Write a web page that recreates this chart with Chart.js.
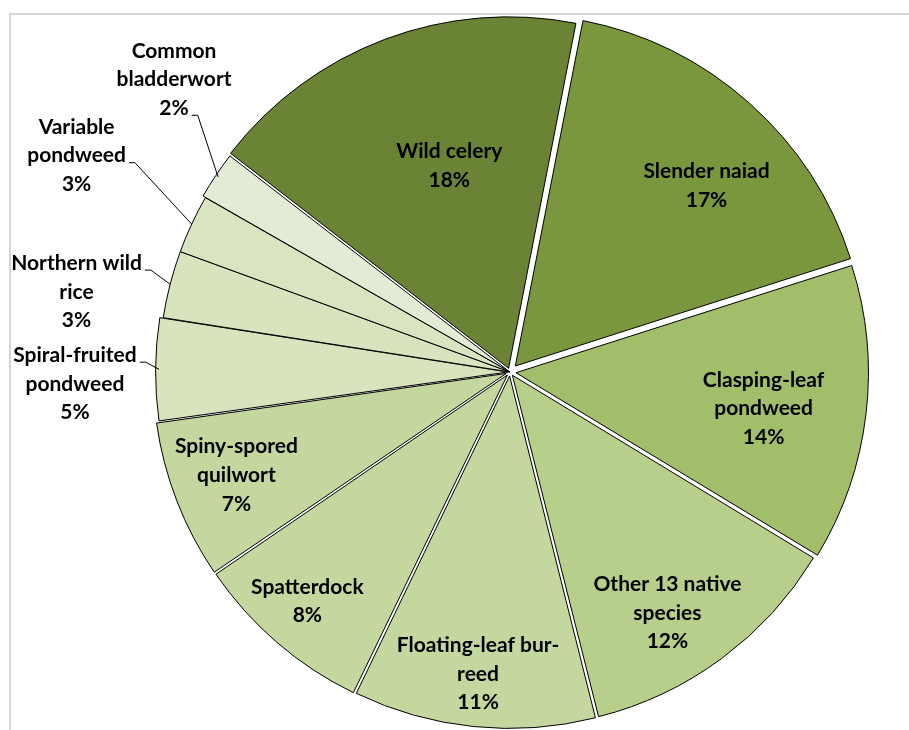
<!DOCTYPE html>
<html>
<head>
<meta charset="utf-8">
<script src="https://cdn.jsdelivr.net/npm/chart.js@4.4.1/dist/chart.umd.min.js"></script>
<style>
  html, body { margin: 0; padding: 0; background: #fff; overflow: hidden; }
  #frame { position: absolute; left: 9px; top: 13px; width: 1000px; height: 1000px; border: 2px solid #d4d4d4; }
  #wrap { position: absolute; left: 0; top: 0; width: 909px; height: 730px; }
</style>
</head>
<body>
<div id="frame"></div>
<div id="wrap"><canvas id="chart_pie"></canvas></div>
<script>
// categories (line breaks as they appear on the chart)
const categories = [
  ['Wild celery'],
  ['Slender naiad'],
  ['Clasping-leaf', 'pondweed'],
  ['Other 13 native', 'species'],
  ['Floating-leaf bur-', 'reed'],
  ['Spatterdock'],
  ['Spiny-spored', 'quilwort'],
  ['Spiral-fruited', 'pondweed'],
  ['Northern wild', 'rice'],
  ['Variable', 'pondweed'],
  ['Common', 'bladderwort']
];

// share of plants, percent
const shares = [17.6, 17.0, 13.6, 12.4, 11.1, 8.3, 7.3, 4.7, 3.1, 2.7, 2.2];

const sliceColors = ['#6A8335', '#7A973E', '#A3BE6A', '#B7CF8B', '#C3D79F', '#C3D79F',
  '#C3D79F', '#D7E4BD', '#D7E4BD', '#D9E5C1', '#E3EBD4'];

// explode distance per slice (chart.js divides offset by 4)
const sliceOffsets = [16, 32, 24, 16, 16, 16, 16, 8, 0, 0, 6];

// label placement: fraction of radius, angle shift in degrees, leader line index
const labelRadius = [0.612, 0.771, 0.730, 0.820, 0.865, 0.872, 0.833, 1.240, 1.256, 1.380, 1.269];
const labelShift = [4.2, 4.9, 1.5, 3.3, 0.2, 0.7, 0.5, -2.0, -4.0, 1.6, 7.3];
const leaderLine = [0, 0, 0, 0, 0, 0, 0, 0, 0, 1, 2];

const LINE_H = 28.7;
const FONT = 'bold 21px Lato';

const pieLabels = {
  id: 'pieLabels',
  afterDatasetsDraw(chart) {
    const ctx = chart.ctx;
    const meta = chart.getDatasetMeta(0);
    const data = chart.data.datasets[0].data;
    const total = data.reduce((a, b) => a + b, 0);
    ctx.save();
    ctx.font = FONT;
    ctx.fillStyle = '#000';
    ctx.textAlign = 'center';
    ctx.textBaseline = 'middle';
    meta.data.forEach((arc, i) => {
      const p = arc.getProps(['x', 'y', 'startAngle', 'endAngle', 'outerRadius'], true);
      const mid = (p.startAngle + p.endAngle) / 2;
      const a = mid + labelShift[i] * Math.PI / 180;
      const r = p.outerRadius * labelRadius[i];
      const lx = p.x + Math.cos(a) * r;
      const ly = p.y + Math.sin(a) * r;
      const lines = categories[i].concat([Math.round(data[i] / total * 100) + '%']);
      const n = lines.length;
      lines.forEach((t, k) => {
        ctx.fillText(t, lx, ly + (k - (n - 1) / 2) * LINE_H);
      });
      // leader line for labels outside the pie
      if (labelRadius[i] > 1) {
        const k = leaderLine[i];
        const w = ctx.measureText(lines[k]).width;
        const sx = lx + w / 2 + 3;
        const sy = ly + (k - (n - 1) / 2) * LINE_H + 7;
        const ex = p.x + Math.cos(mid) * p.outerRadius;
        const ey = p.y + Math.sin(mid) * p.outerRadius;
        ctx.beginPath();
        ctx.strokeStyle = '#000';
        ctx.lineWidth = 1;
        ctx.moveTo(sx, sy);
        ctx.lineTo(sx + 6, sy);
        ctx.lineTo(ex, ey);
        ctx.stroke();
      }
    });
    ctx.restore();
  }
};

document.addEventListener('DOMContentLoaded', function () {
  const ctx = document.getElementById('chart_pie');

  new Chart(ctx, {
    type: 'pie',
    data: {
      labels: categories,
      datasets: [{
        data: shares,
        backgroundColor: sliceColors,
        borderColor: '#000',
        borderWidth: 1,
        offset: sliceOffsets
      }]
    },
    options: {
      responsive: true,
      maintainAspectRatio: false,
      animation: false,
      rotation: -52.3,
      radius: 351,
      layout: { padding: { left: 111, right: 0, top: 14, bottom: 0 } },
      plugins: {
        legend: { display: false },
        tooltip: { enabled: false }
      }
    },
    plugins: [pieLabels]
  });
});
</script>
</body>
</html>
